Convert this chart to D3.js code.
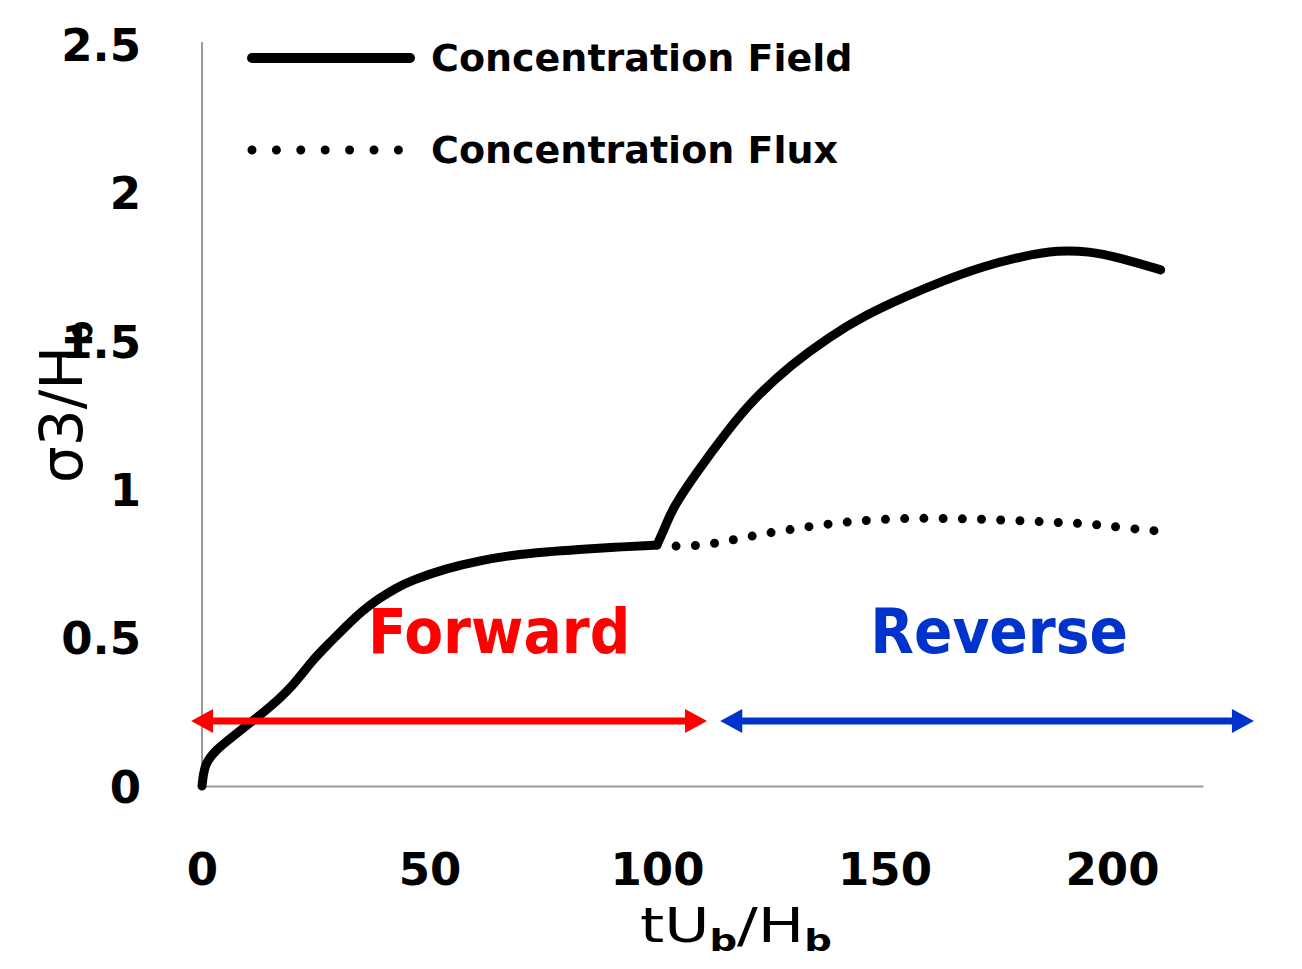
<!DOCTYPE html>
<html>
<head>
<meta charset="utf-8">
<script src="https://cdn.jsdelivr.net/npm/d3@7"></script>
<style>
  body { margin: 0; background: #fff; }
  svg { display: block; }
</style>
</head>
<body>
<svg id="viz" width="1302" height="969"></svg>
<script>
// values
var fieldX = [0, 0.3, 0.8, 3, 6.7, 10.4, 14.7, 19.9, 24.3, 27.9, 31.6, 35.2, 38.9, 42.6, 46.3, 53.6, 60.9, 68.2, 75.6, 82.9, 90.2, 100,
  102, 103.4, 108.6, 115.9, 121, 129.5, 137.9, 146, 154.6, 163, 171.5, 180, 188.3, 195, 201, 210.7];
var fieldY = [0, 0.04, 0.077, 0.121, 0.166, 0.211, 0.262, 0.335, 0.425, 0.48, 0.537, 0.59, 0.632, 0.667, 0.694, 0.733, 0.759, 0.778, 0.789, 0.797, 0.804, 0.812,
  0.88, 0.935, 1.055, 1.205, 1.3, 1.42, 1.514, 1.588, 1.649, 1.703, 1.75, 1.784, 1.806, 1.801, 1.783, 1.739];
var fluxX = [100, 104.2, 109.7, 114.6, 119.6, 124.6, 129.7, 134.7, 140.1, 145.2, 150.4, 155.9, 161.2, 166.7, 171.9, 177.3, 182.6, 187.9, 193.1, 198.4, 203.5, 209.5];
var fluxY = [0.812, 0.807, 0.81, 0.823, 0.838, 0.853, 0.865, 0.877, 0.887, 0.894, 0.899, 0.902, 0.902, 0.9, 0.899, 0.895, 0.892, 0.888, 0.885, 0.878, 0.868, 0.86];
var xTicks = [0, 50, 100, 150, 200];
var yTicks = [0, 0.5, 1, 1.5, 2, 2.5];
var seriesNames = ["Concentration Field", "Concentration Flux"];
var phases = ["Forward", "Reverse"];
var phaseColors = ["#ff0000", "#0033cc"];
var phaseFrom = [-2.4, 113.9];
var phaseTo = [111, 231.2];
var phaseMid = [65.3, 175.2];
var switchX = 100;

var svg = d3.select("#viz");
var x = d3.scaleLinear().domain([0, 220]).range([202, 1203]);
var y = d3.scaleLinear().domain([0, 2.5]).range([786, 44]);

var field = fieldX.map((d, i) => [d, fieldY[i]]);
var flux = fluxX.map((d, i) => [d, fluxY[i]]);

// axes
var yAxis = svg.append("g")
  .attr("transform", "translate(" + x(0) + ",0)")
  .call(d3.axisLeft(y).tickValues(yTicks).tickSize(0).tickPadding(61).tickFormat(d3.format("")));
var xAxis = svg.append("g")
  .attr("transform", "translate(0," + y(0) + ")")
  .call(d3.axisBottom(x).tickValues(xTicks).tickSize(0));
[yAxis, xAxis].forEach(g => {
  g.select(".domain").attr("stroke", "#9a9a9a").attr("stroke-width", 2);
  g.selectAll("text")
    .attr("font-family", "DejaVu Sans, Verdana, sans-serif")
    .attr("font-weight", "bold")
    .attr("font-size", 45)
    .attr("fill", "#000");
});
yAxis.select(".domain").attr("d", "M0," + (y(2.5) - 2) + "V" + y(0));
yAxis.selectAll("text").attr("dy", "0.36em");
xAxis.selectAll("text").attr("dy", null).attr("y", 99);

// axis titles
var xt = svg.append("text")
  .attr("font-family", "DejaVu Sans, Verdana, sans-serif")
  .attr("font-size", 48)
  .attr("fill", "#000");
xt.append("tspan").text("tU");
xt.append("tspan").attr("font-size", 30).attr("font-weight", "bold").attr("dy", 9).text("b");
xt.append("tspan").attr("dy", -9).text("/H");
xt.append("tspan").attr("font-size", 30).attr("font-weight", "bold").attr("dy", 9).text("b");
var xb = xt.node().getBBox();
var xs = 192 / xb.width;
xt.attr("transform", "translate(640,942) scale(" + xs + ",1)");

var yt = svg.append("text")
  .attr("transform", "translate(82,483) rotate(-90)")
  .attr("font-family", "DejaVu Sans, Verdana, sans-serif")
  .attr("font-size", 58)
  .attr("fill", "#000");
yt.append("tspan").text("σ3/H");
yt.append("tspan").attr("font-size", 36).attr("font-weight", "bold").attr("dy", 10).text("b");

// series
var line = d3.line().x(d => x(d[0])).y(d => y(d[1])).curve(d3.curveBasis);
var before = field.filter(d => d[0] <= switchX);
var after = field.filter(d => d[0] >= switchX);

svg.append("path")
  .attr("d", line(before) + line(after))
  .attr("fill", "none")
  .attr("stroke", "#000")
  .attr("stroke-width", 9)
  .attr("stroke-linecap", "round")
  .attr("stroke-linejoin", "round");

var fluxPath = svg.append("path")
  .attr("d", line(flux))
  .attr("fill", "none")
  .attr("stroke", "#000")
  .attr("stroke-width", 9)
  .attr("stroke-linecap", "round");
var fl = fluxPath.node().getTotalLength();
var gap = fl / Math.round(fl / 19.4) - 0.05;
fluxPath.attr("stroke-dasharray", "0 " + gap);

// legend
var legend = svg.append("g");
legend.append("line")
  .attr("x1", 252).attr("x2", 410).attr("y1", 58).attr("y2", 58)
  .attr("stroke", "#000").attr("stroke-width", 10).attr("stroke-linecap", "round");
legend.append("line")
  .attr("x1", 252).attr("x2", 400).attr("y1", 150).attr("y2", 150)
  .attr("stroke", "#000").attr("stroke-width", 9).attr("stroke-linecap", "round")
  .attr("stroke-dasharray", "0 24.4");
legend.selectAll("text")
  .data(seriesNames)
  .enter().append("text")
  .attr("x", 431)
  .attr("y", (d, i) => 71 + i * 92)
  .attr("font-family", "DejaVu Sans, Verdana, sans-serif")
  .attr("font-weight", "bold")
  .attr("font-size", 38)
  .attr("fill", "#000")
  .text(d => d);

// phase arrows
var arrowY = 0.219;
function arrow(x1, x2, col) {
  var g = svg.append("g");
  var yy = y(arrowY);
  var hl = 22, hw = 12;
  g.append("line")
    .attr("x1", x(x1) + hl - 1).attr("x2", x(x2) - hl + 1)
    .attr("y1", yy).attr("y2", yy)
    .attr("stroke", col).attr("stroke-width", 7);
  g.append("path")
    .attr("d", "M" + x(x1) + "," + yy + "L" + (x(x1) + hl) + "," + (yy - hw) + "V" + (yy + hw) + "Z")
    .attr("fill", col);
  g.append("path")
    .attr("d", "M" + x(x2) + "," + yy + "L" + (x(x2) - hl) + "," + (yy - hw) + "V" + (yy + hw) + "Z")
    .attr("fill", col);
}
phases.forEach((p, i) => {
  arrow(phaseFrom[i], phaseTo[i], phaseColors[i]);
  svg.append("text")
    .attr("x", x(phaseMid[i]))
    .attr("y", y(0.448))
    .attr("text-anchor", "middle")
    .attr("font-family", "DejaVu Sans Condensed, Tahoma, sans-serif")
    .attr("font-weight", "bold")
    .attr("font-size", 63)
    .attr("fill", phaseColors[i])
    .text(p);
});
</script>
</body>
</html>
